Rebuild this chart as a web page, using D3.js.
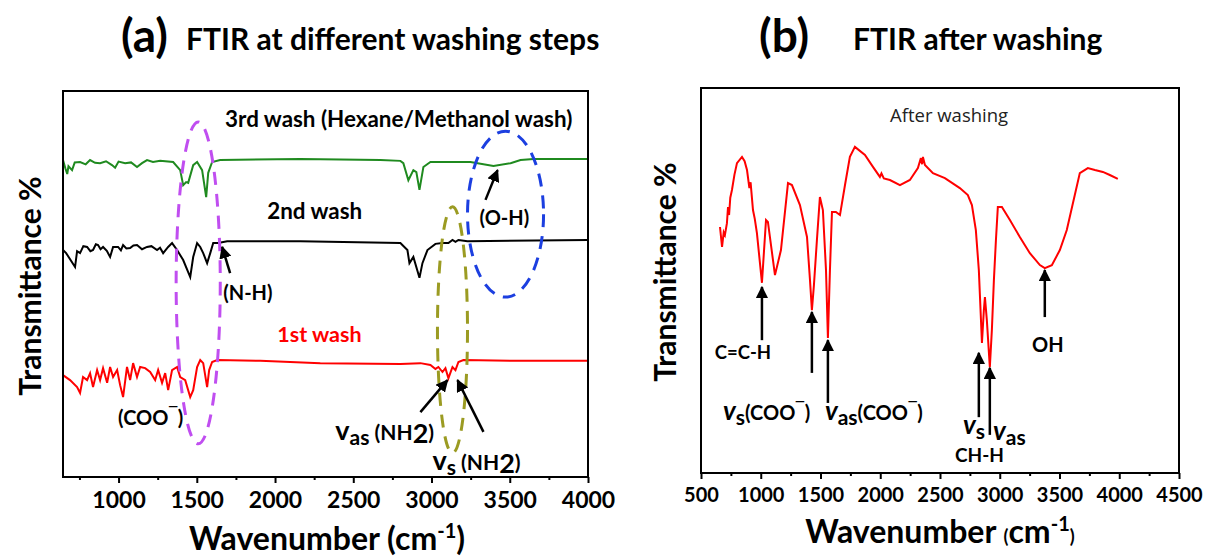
<!DOCTYPE html>
<html>
<head>
<meta charset="utf-8">
<script src="https://cdn.jsdelivr.net/npm/d3@7"></script>
<style>
  body { margin: 0; background: #fff; }
  svg text { font-family: Lato, "Open Sans", sans-serif; }
</style>
</head>
<body>
<svg id="chart" width="1207" height="559"></svg>
<script>
// ---- panel (a) data: [wavenumber, transmittance (a.u., offset per wash)] ----
const wash3 = [[645,82.1],[660,80.0],[672,78.5],[680,80.5],[703,79.5],[720,81.5],[754,81.6],[790,81.0],[818,82.1],[850,81.4],[882,81.3],[920,81.8],[958,80.8],[978,80.1],[1000,81.7],[1042,81.3],[1080,81.5],[1118,80.3],[1150,81.3],[1182,82.1],[1220,81.6],[1266,81.9],[1349,81.6],[1394,79.5],[1413,75.6],[1432,76.4],[1445,76.2],[1477,80.8],[1502,81.6],[1534,79.5],[1560,72.5],[1573,78.8],[1598,81.6],[1649,82.1],[2161,82.4],[2673,82.1],[2801,81.9],[2820,81.3],[2852,76.9],[2884,79.5],[2903,79.0],[2923,74.4],[2948,80.3],[2993,81.6],[3249,81.6],[3396,80.6],[3505,81.3],[3569,82.1],[3652,82.4],[4000,82.4]];

const wash2 = [[645,58.8],[665,58.0],[722,54.4],[735,58.5],[754,58.0],[775,59.8],[799,59.6],[820,58.5],[837,58.8],[855,60.3],[869,60.1],[885,59.0],[901,59.6],[925,58.6],[946,57.0],[965,59.6],[997,59.6],[1015,58.7],[1029,60.1],[1050,59.2],[1074,59.3],[1095,60.0],[1118,60.1],[1150,59.0],[1182,59.6],[1210,59.8],[1246,58.8],[1265,59.4],[1285,58.0],[1317,59.6],[1342,60.6],[1374,58.8],[1413,56.2],[1458,51.8],[1477,57.0],[1502,60.6],[1522,59.6],[1541,58.0],[1566,55.4],[1586,58.0],[1605,60.6],[1637,60.6],[1694,61.1],[2161,61.1],[2801,60.6],[2846,58.8],[2859,55.4],[2884,57.0],[2923,51.6],[2942,55.4],[2974,58.8],[3025,60.4],[3070,60.6],[3108,60.6],[3134,61.4],[3153,60.9],[3172,61.4],[3230,61.1],[4000,61.4]];

const wash1 = [[645,26.4],[690,25.1],[735,23.3],[754,21.8],[773,25.9],[799,25.1],[818,26.9],[837,23.3],[863,27.7],[882,25.1],[901,28.2],[927,24.4],[946,28.5],[965,25.9],[991,27.7],[1010,23.8],[1029,20.7],[1054,28.5],[1074,25.1],[1093,29.5],[1118,25.9],[1138,28.5],[1170,28.2],[1202,27.2],[1234,25.1],[1253,27.7],[1278,24.4],[1298,26.9],[1317,22.5],[1342,27.7],[1374,28.5],[1394,25.9],[1426,25.1],[1458,20.7],[1477,22.5],[1502,28.5],[1522,30.3],[1541,29.5],[1566,23.3],[1579,27.7],[1598,29.8],[1630,30.3],[1905,30.1],[2289,29.5],[2801,29.3],[2929,29.5],[2993,29.0],[3025,28.0],[3044,28.5],[3070,27.2],[3089,28.2],[3108,25.6],[3134,28.5],[3153,27.7],[3172,29.8],[3204,30.3],[3569,30.1],[4000,30.1]];

// ---- panel (b) data: after washing ----
const afterWash = [[659,63.9],[676,58.7],[690,62.5],[700,61.8],[717,64.9],[726,69.1],[735,67.0],[745,71.5],[759,73.5],[780,77.5],[801,80.5],[843,82.1],[865,81.0],[885,78.7],[905,74.0],[915,75.5],[935,68.3],[950,66.0],[968,62.3],[1010,49.4],[1044,65.7],[1060,65.2],[1119,51.4],[1169,57.9],[1228,75.3],[1261,74.8],[1328,69.6],[1387,61.3],[1412,50.1],[1428,42.3],[1445,48.8],[1470,60.5],[1495,71.7],[1520,68.3],[1546,52.7],[1562,35.1],[1579,52.7],[1596,67.8],[1629,67.8],[1663,67.0],[1705,74.8],[1746,82.1],[1788,84.7],[1872,82.6],[1939,79.5],[1997,76.9],[2010,77.8],[2030,76.5],[2081,76.1],[2165,74.8],[2248,76.1],[2315,79.2],[2340,81.8],[2350,80.2],[2357,82.1],[2374,80.0],[2441,77.9],[2541,76.6],[2666,74.0],[2733,72.2],[2767,69.6],[2800,63.1],[2825,52.7],[2851,33.8],[2867,42.3],[2876,45.7],[2892,39.7],[2917,27.5],[2934,37.1],[2951,50.1],[2968,60.5],[2984,69.1],[3018,69.1],[3085,65.7],[3168,61.3],[3252,57.1],[3336,54.0],[3377,53.2],[3436,54.0],[3503,57.9],[3561,63.1],[3628,72.2],[3670,77.9],[3737,79.2],[3796,78.7],[3863,78.2],[3921,77.4],[3988,76.4]];

const ticksA = [1000, 1500, 2000, 2500, 3000, 3500, 4000];
const ticksB = [500, 1000, 1500, 2000, 2500, 3000, 3500, 4000, 4500];

const svg = d3.select("#chart");

// ================= panel (a) =================
const ax = d3.scaleLinear().domain([645, 4000]).range([63, 588]);
const ay = d3.scaleLinear().domain([0, 100]).range([477, 91]);

const lineA = d3.line().x(d => ax(d[0])).y(d => ay(d[1]));

const series = [
  {data: wash3, color: "#1f8a1f"},
  {data: wash2, color: "#000000"},
  {data: wash1, color: "#ff0000"}
];
series.forEach(s => {
  svg.append("path").datum(s.data)
    .attr("d", lineA).attr("fill", "none")
    .attr("stroke", s.color).attr("stroke-width", 2);
});

svg.append("rect").attr("x", 63).attr("y", 91).attr("width", 525).attr("height", 386)
  .attr("fill", "none").attr("stroke", "#000").attr("stroke-width", 2);

const axisA = svg.append("g").attr("transform", "translate(0,477)")
  .call(d3.axisBottom(ax).tickValues(ticksA).tickSize(6).tickFormat(d3.format("d")));
axisA.select(".domain").remove();
axisA.selectAll("line").attr("stroke-width", 2);
axisA.selectAll("text").attr("font-size", 23).attr("font-weight", 700).attr("dy", "0.95em")
  .style("font-family", "Lato");
svg.append("g").attr("transform", "translate(0,477)")
  .call(d3.axisBottom(ax).tickValues([750, 1250, 1750, 2250, 2750, 3250, 3750]).tickSize(3).tickFormat(""))
  .call(g => g.select(".domain").remove())
  .selectAll("line").attr("stroke-width", 2);

// dashed ellipses
const ellA = [
  {w: 1509, t: 50.3, rw: 141, rt: 41.7, color: "#c04ef0"},
  {w: 3473, t: 68.1, rw: 243, rt: 21.5, color: "#1c3fe0"},
  {w: 3134, t: 38.1, rw: 96, rt: 31.9, color: "#9b9b22"}
];
ellA.forEach(e => {
  svg.append("ellipse")
    .attr("cx", ax(e.w)).attr("cy", ay(e.t))
    .attr("rx", ax(e.w + e.rw) - ax(e.w)).attr("ry", ay(e.t) - ay(e.t + e.rt))
    .attr("fill", "none").attr("stroke", e.color).attr("stroke-width", 3)
    .attr("stroke-dasharray", "13,9");
});

// arrow marker
svg.append("defs").append("marker")
  .attr("id", "head").attr("viewBox", "0 0 10 10").attr("refX", 9).attr("refY", 5)
  .attr("markerWidth", 5).attr("markerHeight", 5).attr("orient", "auto")
  .append("path").attr("d", "M0,0L10,5L0,10z").attr("fill", "#000");

const arrowsA = [
  [1713, 52.8, 1662, 59.6],
  [3345, 71.8, 3422, 79.5],
  [2929, 16.8, 3102, 25.1],
  [3332, 11.7, 3166, 25.1]
];
arrowsA.forEach(a => {
  svg.append("line")
    .attr("x1", ax(a[0])).attr("y1", ay(a[1])).attr("x2", ax(a[2])).attr("y2", ay(a[3]))
    .attr("stroke", "#000").attr("stroke-width", 2.5).attr("marker-end", "url(#head)");
});

function label(x, y, str, size, color, anchor) {
  return svg.append("text").attr("x", x).attr("y", y).text(str)
    .attr("font-size", size).attr("font-weight", 700)
    .attr("fill", color || "#000").attr("text-anchor", anchor || "start");
}
label(ax(1681), ay(92.5) + 7, "3rd wash (Hexane/Methanol wash)", 22.4);
label(ax(1950), ay(68.7) + 7, "2nd  wash", 22.4);
label(ax(2014), ay(36.8) + 7, "1st wash", 21.5, "#ff0000");
label(ax(1669), ay(47.7) + 7, "(N-H)", 20);
label(ax(3307), ay(67.1) + 7, "(O-H)", 20);
const coo = label(ax(997), ay(15.3) + 7, "(COO", 20);
coo.append("tspan").attr("baseline-shift", "super").attr("font-size", 14).text("‾");
coo.append("tspan").text(")");

const vas = label(ax(2385), ay(11.7) + 8, "v", 27);
vas.append("tspan").attr("dy", 5).attr("font-size", 21).text("as");
vas.append("tspan").attr("dy", -5).attr("font-size", 21).text(" (NH");
vas.append("tspan").attr("font-size", 27).attr("dy", 3).text("2");
vas.append("tspan").attr("font-size", 21).attr("dy", -3).text(")");
const vs = label(ax(3006), ay(3.9) + 8, "v", 27);
vs.append("tspan").attr("dy", 5).attr("font-size", 21).text("s");
vs.append("tspan").attr("dy", -5).attr("font-size", 21).text(" (NH");
vs.append("tspan").attr("font-size", 27).attr("dy", 3).text("2");
vs.append("tspan").attr("font-size", 21).attr("dy", -3).text(")");

svg.append("text").attr("transform", "translate(41,286) rotate(-90)")
  .attr("text-anchor", "middle").attr("font-size", 30).attr("font-weight", 700)
  .text("Transmittance %");
const xtA = svg.append("text").attr("x", 327).attr("y", 550).attr("text-anchor", "middle")
  .attr("font-size", 32).attr("font-weight", 700).text("Wavenumber (cm");
xtA.append("tspan").attr("baseline-shift", "super").attr("font-size", 20).text("-1");
xtA.append("tspan").text(")");

svg.append("text").attr("x", 121).attr("y", 52).attr("font-weight", 700)
  .attr("font-size", 46).text("(a)");
svg.append("text").attr("x", 186).attr("y", 50).attr("font-weight", 700)
  .attr("font-size", 30).text("FTIR at different washing steps");

// ================= panel (b) =================
const bx = d3.scaleLinear().domain([500, 4500]).range([701, 1179]);
const by = d3.scaleLinear().domain([0, 100]).range([473, 88]);

svg.append("path").datum(afterWash)
  .attr("d", d3.line().x(d => bx(d[0])).y(d => by(d[1])))
  .attr("fill", "none").attr("stroke", "#ff0000").attr("stroke-width", 2);

svg.append("rect").attr("x", 701).attr("y", 88).attr("width", 478).attr("height", 385)
  .attr("fill", "none").attr("stroke", "#000").attr("stroke-width", 2);

const axisB = svg.append("g").attr("transform", "translate(0,473)")
  .call(d3.axisBottom(bx).tickValues(ticksB).tickSize(6).tickFormat(d3.format("d")));
axisB.select(".domain").remove();
axisB.selectAll("line").attr("stroke-width", 2);
axisB.selectAll("text").attr("font-size", 20).attr("font-weight", 700).attr("dy", "1.0em")
  .style("font-family", "Lato");
svg.append("g").attr("transform", "translate(0,473)")
  .call(d3.axisBottom(bx).tickValues(d3.range(750, 4500, 500)).tickSize(3).tickFormat(""))
  .call(g => g.select(".domain").remove())
  .selectAll("line").attr("stroke-width", 2);

svg.append("text").attr("x", 890).attr("y", 122).attr("font-size", 18.5)
  .style("font-family", "'Open Sans', Arial").attr("fill", "#222").text("After washing");

const arrowsB = [
  [1010, 34.5, 1010, 48.3],
  [1428, 26.0, 1428, 41.8],
  [1562, 18.2, 1562, 34.5],
  [2825, 14.5, 2825, 31.2],
  [2917, 9.9, 2917, 27.3],
  [3377, 40.5, 3377, 52.7]
];
arrowsB.forEach(a => {
  svg.append("line")
    .attr("x1", bx(a[0])).attr("y1", by(a[1])).attr("x2", bx(a[2])).attr("y2", by(a[3]))
    .attr("stroke", "#000").attr("stroke-width", 2.5).attr("marker-end", "url(#head)");
});

function labelB(w, t, size) {
  return svg.append("text").attr("x", bx(w)).attr("y", by(t) + 7)
    .attr("font-size", size).attr("font-weight", 700);
}
labelB(851, 31.4, 18.5).attr("text-anchor", "middle").text("C=C-H");
labelB(3403, 33.2, 20).attr("text-anchor", "middle").text("OH");
labelB(2830, 4.7, 19).attr("text-anchor", "middle").text("CH-H");
const l1 = labelB(684, 15.6, 26);
l1.append("tspan").attr("font-style", "italic").text("v");
l1.append("tspan").attr("font-size", 21).attr("dy", 5).text("s");
l1.append("tspan").attr("font-size", 20).attr("dy", -5).text("(COO");
l1.append("tspan").attr("font-size", 14).attr("dy", -8).text("‾");
l1.append("tspan").attr("font-size", 20).attr("dy", 8).text(")");
const l2 = labelB(1537, 15.6, 26);
l2.append("tspan").attr("font-style", "italic").text("v");
l2.append("tspan").attr("font-size", 21).attr("dy", 5).text("as");
l2.append("tspan").attr("font-size", 20).attr("dy", -5).text("(COO");
l2.append("tspan").attr("font-size", 14).attr("dy", -8).text("‾");
l2.append("tspan").attr("font-size", 20).attr("dy", 8).text(")");
const l3 = labelB(2876, 12.0, 26).attr("text-anchor", "end");
l3.append("tspan").attr("font-style", "italic").text("v");
l3.append("tspan").attr("font-size", 21).attr("dy", 5).text("s");
const l4 = labelB(2943, 10.5, 26);
l4.append("tspan").attr("font-style", "italic").text("v");
l4.append("tspan").attr("font-size", 21).attr("dy", 5).text("as");

svg.append("text").attr("transform", "translate(676,272) rotate(-90)")
  .attr("text-anchor", "middle").attr("font-size", 30).attr("font-weight", 700)
  .text("Transmittance %");
const xtB = svg.append("text").attr("x", 940).attr("y", 543).attr("text-anchor", "middle")
  .attr("font-size", 32).attr("font-weight", 700).text("Wavenumber ");
xtB.append("tspan").attr("font-size", 18).text("(");
xtB.append("tspan").text("cm");
xtB.append("tspan").attr("baseline-shift", "super").attr("font-size", 20).text("-1");
xtB.append("tspan").attr("font-size", 18).text(")");

svg.append("text").attr("x", 759).attr("y", 52).attr("font-weight", 700)
  .attr("font-size", 46).text("(b)");
svg.append("text").attr("x", 853).attr("y", 50).attr("font-weight", 700)
  .attr("font-size", 30).text("FTIR after washing");
</script>
</body>
</html>
